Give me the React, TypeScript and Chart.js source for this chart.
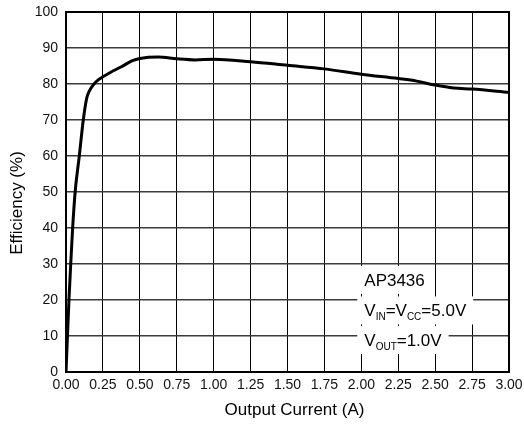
import React, { useEffect, useRef } from "react";
import { Chart, registerables } from "chart.js";

Chart.register(...registerables);

const currentA = [0, 0.01, 0.02, 0.032, 0.045, 0.062, 0.09, 0.117, 0.14, 0.156, 0.19, 0.22, 0.25, 0.3, 0.375, 0.45, 0.5, 0.625, 0.75, 0.875, 1.0, 1.25, 1.5, 1.75, 2.0, 2.25, 2.375, 2.5, 2.625, 2.75, 3.0];
const efficiency = [0, 10, 20, 30, 40, 50, 60, 70, 76, 77.9, 80, 81.2, 82, 83.2, 84.8, 86.5, 87.1, 87.5, 87.0, 86.7, 86.9, 86.2, 85.2, 84.2, 82.7, 81.5, 80.8, 79.7, 78.9, 78.6, 77.7];

const xTicks = [0, 0.25, 0.5, 0.75, 1, 1.25, 1.5, 1.75, 2, 2.25, 2.5, 2.75, 3];
const yTicks = [0, 10, 20, 30, 40, 50, 60, 70, 80, 90, 100];

const xTitle = "Output Current (A)";
const yTitle = "Efficiency (%)";

// annotation lines: segments of [text, isSubscript]
const noteX = 2.02;
const noteLines: { y: number; parts: [string, boolean][] }[] = [
  { y: 25.6, parts: [["AP3436", false]] },
  { y: 17.1, parts: [["V", false], ["IN", true], ["=V", false], ["CC", true], ["=5.0V", false]] },
  { y: 8.9, parts: [["V", false], ["OUT", true], ["=1.0V", false]] },
];

const FONT = "'Liberation Sans', Arial, sans-serif";

const decorPlugin = {
  id: "decor",
  afterDatasetsDraw(chart: any) {
    const { ctx, chartArea, scales } = chart;
    ctx.save();
    ctx.strokeStyle = "#000";
    ctx.lineWidth = 2;
    ctx.strokeRect(chartArea.left, chartArea.top, chartArea.right - chartArea.left, chartArea.bottom - chartArea.top);
    const mainFont = `17px ${FONT}`;
    const subFont = `10px ${FONT}`;
    for (const line of noteLines) {
      const x0 = scales.x.getPixelForValue(noteX);
      const yc = scales.y.getPixelForValue(line.y);
      let w = 0;
      for (const [t, sub] of line.parts) {
        ctx.font = sub ? subFont : mainFont;
        w += ctx.measureText(t).width;
      }
      ctx.fillStyle = "#fff";
      ctx.fillRect(x0 - 7, yc - 14, w + 14, 28);
      let x = x0;
      ctx.fillStyle = "#000";
      ctx.textBaseline = "alphabetic";
      ctx.textAlign = "left";
      const base = yc + 6;
      for (const [t, sub] of line.parts) {
        ctx.font = sub ? subFont : mainFont;
        ctx.fillText(t, x, sub ? base + 4 : base);
        x += ctx.measureText(t).width;
      }
    }
    ctx.restore();
  },
  afterDraw(chart: any) {
    const { ctx, chartArea } = chart;
    ctx.save();
    ctx.fillStyle = "#000";
    ctx.font = `17px ${FONT}`;
    ctx.textAlign = "center";
    ctx.textBaseline = "middle";
    ctx.fillText(xTitle, (chartArea.left + chartArea.right) / 2 + 7, 410.5);
    ctx.translate(17, (chartArea.top + chartArea.bottom) / 2 + 11);
    ctx.rotate(-Math.PI / 2);
    ctx.fillText(yTitle, 0, 0);
    ctx.restore();
  },
};

export default function App() {
  const ref = useRef<HTMLCanvasElement>(null);
  useEffect(() => {
    if (!ref.current) return;
    const chart = new Chart(ref.current, {
      type: "line",
      data: {
        datasets: [
          {
            data: currentA.map((x, i) => ({ x, y: efficiency[i] })),
            borderColor: "#000",
            borderWidth: 3,
            pointRadius: 0,
            cubicInterpolationMode: "monotone",
            fill: false,
          },
        ],
      },
      options: {
        responsive: false,
        animation: false,
        devicePixelRatio: 1,
        layout: { padding: { left: 0, right: 15, top: 12, bottom: 0 } },
        plugins: { legend: { display: false }, tooltip: { enabled: false } },
        scales: {
          x: {
            type: "linear",
            min: 0,
            max: 3,
            afterBuildTicks: (s: any) => {
              s.ticks = xTicks.map((v) => ({ value: v }));
            },
            afterFit: (s: any) => {
              s.height = 53;
              s.paddingLeft = 0;
              s.paddingRight = 0;
            },
            ticks: {
              callback: (v: any) => Number(v).toFixed(2),
              font: { family: FONT, size: 14 },
              color: "#111",
              padding: 5,
              maxRotation: 0,
              autoSkip: false,
            },
            grid: { color: "#000", lineWidth: 1, drawTicks: false },
            border: { color: "#000", width: 2 },
          },
          y: {
            min: 0,
            max: 100,
            afterBuildTicks: (s: any) => {
              s.ticks = yTicks.map((v) => ({ value: v }));
            },
            afterFit: (s: any) => {
              s.width = 66;
              s.paddingTop = 0;
              s.paddingBottom = 0;
            },
            ticks: {
              font: { family: FONT, size: 14 },
              color: "#111",
              padding: 8,
              autoSkip: false,
            },
            grid: { color: "#3a3a3a", lineWidth: 1.5, drawTicks: false },
            border: { color: "#000", width: 2 },
          },
        },
      },
      plugins: [decorPlugin],
    });
    return () => chart.destroy();
  }, []);
  return (
    <div style={{ position: "absolute", left: 0, top: 0, width: 524, height: 425, background: "#fff" }}>
      <canvas ref={ref} width={524} height={425} style={{ display: "block" }} />
    </div>
  );
}
